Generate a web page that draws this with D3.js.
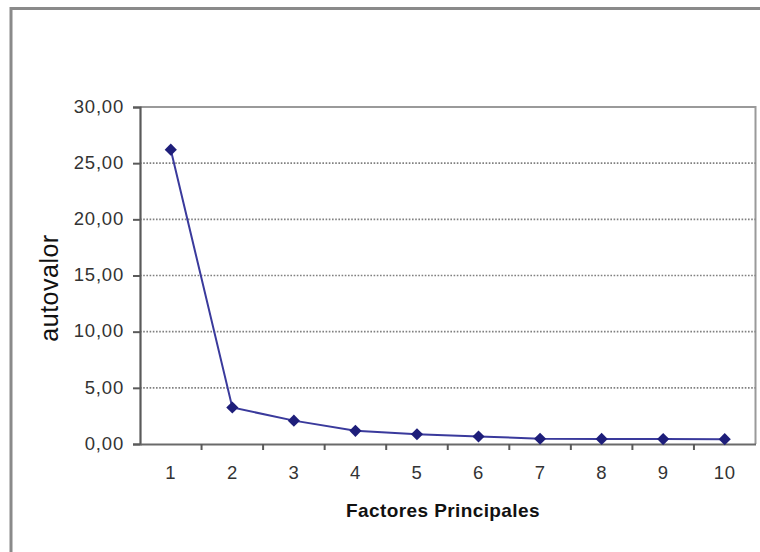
<!DOCTYPE html>
<html>
<head>
<meta charset="utf-8">
<script src="https://cdn.jsdelivr.net/npm/d3@7"></script>
<style>
html,body{margin:0;padding:0;background:#fff;}
svg{display:block;}
</style>
</head>
<body>
<svg id="chart" width="760" height="552"></svg>
<script>
const factors = [1, 2, 3, 4, 5, 6, 7, 8, 9, 10];
const eigenvalues = [26.2, 3.25, 2.08, 1.17, 0.87, 0.67, 0.47, 0.45, 0.44, 0.43];
const yTicks = [0, 5, 10, 15, 20, 25, 30];
const xTitle = "Factores Principales";
const yTitle = "autovalor";

(function () {
const svg = d3.select("#chart");
const font = "'Liberation Sans', Arial, Helvetica, sans-serif";

// outer chart border
svg.append("rect")
  .attr("x", 11).attr("y", 8.5).attr("width", 820).attr("height", 620)
  .attr("fill", "#fff").attr("stroke", "#8a8a8a").attr("stroke-width", 3);

const pLeft = 140, pRight = 755.5, pTop = 107, pBottom = 444;

const x = d3.scaleBand().domain(factors).range([pLeft, pRight]).padding(0);
const y = d3.scaleLinear().domain([0, 30]).range([pBottom, pTop]);

// plot area border (top and right)
svg.append("path")
  .attr("d", `M${pLeft},${y(30)}H${pRight}V${pBottom}`)
  .attr("fill", "none").attr("stroke", "#9a9a9a").attr("stroke-width", 2);

// gridlines
svg.append("g")
  .selectAll("line")
  .data(yTicks.filter(t => t > 0 && t < 30))
  .join("line")
  .attr("x1", pLeft).attr("x2", pRight)
  .attr("y1", d => y(d)).attr("y2", d => y(d))
  .attr("stroke", "#808080").attr("stroke-width", 1.6)
  .attr("stroke-dasharray", "1.6,1.6");

// y axis
const yAxis = svg.append("g")
  .attr("transform", `translate(${pLeft},0)`)
  .call(d3.axisLeft(y).tickValues(yTicks)
    .tickFormat(d => d3.format(".2f")(d).replace(".", ","))
    .tickSize(7).tickPadding(9));
yAxis.select(".domain").attr("stroke", "#5a5a5a").attr("stroke-width", 2.2);
yAxis.selectAll(".tick line").attr("stroke", "#5a5a5a").attr("stroke-width", 2);
yAxis.selectAll(".tick text")
  .attr("font-family", font).attr("font-size", 18.5).attr("fill", "#333")
  .attr("letter-spacing", "0.8px")
  .attr("dy", "0.28em");

// x axis
const xAxis = svg.append("g")
  .attr("transform", `translate(0,${pBottom})`)
  .call(d3.axisBottom(x).tickSize(0).tickPadding(22));
xAxis.select(".domain").attr("stroke", "#6a6a6a").attr("stroke-width", 2.2);
xAxis.selectAll(".tick text")
  .attr("font-family", font).attr("font-size", 18.5).attr("fill", "#333")
  .attr("letter-spacing", "0.6px");
// category boundary tick marks
xAxis.append("g")
  .selectAll("line")
  .data(factors.slice(1))
  .join("line")
  .attr("x1", d => x(d)).attr("x2", d => x(d))
  .attr("y1", 0).attr("y2", 6)
  .attr("stroke", "#5a5a5a").attr("stroke-width", 2);

// series line
const cx = d => x(d) + x.bandwidth() / 2;
const pts = factors.map((f, i) => [cx(f), y(eigenvalues[i])]);
svg.append("path")
  .attr("d", d3.line()(pts))
  .attr("fill", "none").attr("stroke", "#3a3a9c").attr("stroke-width", 2);

// markers
svg.append("g")
  .selectAll("path")
  .data(pts)
  .join("path")
  .attr("d", d3.symbol(d3.symbolSquare, 74)())
  .attr("transform", d => `translate(${d[0]},${d[1]}) rotate(45)`)
  .attr("fill", "#1e1e7a");

// titles
svg.append("text")
  .attr("x", 443).attr("y", 517)
  .attr("text-anchor", "middle")
  .attr("font-family", font).attr("font-size", 19).attr("font-weight", "bold")
  .attr("letter-spacing", "0.4px")
  .attr("fill", "#111")
  .text(xTitle);

svg.append("text")
  .attr("transform", "translate(58,288) rotate(-90)")
  .attr("text-anchor", "middle")
  .attr("font-family", font).attr("font-size", 25)
  .attr("letter-spacing", "0.5px")
  .attr("fill", "#111")
  .text(yTitle);
})();
</script>
</body>
</html>
